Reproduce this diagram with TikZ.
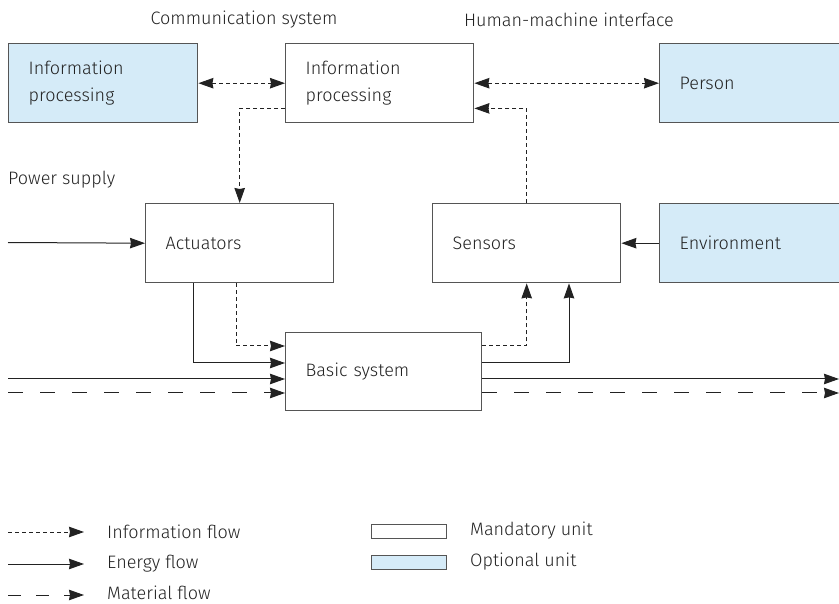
\documentclass[tikz,border=0pt]{standalone}
\usepackage{fontspec}
\setmainfont{Fira Sans}[UprightFont=* Light]
\usetikzlibrary{arrows.meta,calc}
\definecolor{optblue}{HTML}{D5EBF8}
\definecolor{linec}{HTML}{222222}
\definecolor{boxc}{HTML}{555555}
\begin{document}
\begin{tikzpicture}[x=1pt,y=-1pt,
  font=\fontsize{18}{27}\selectfont,
  >={Stealth[length=15pt,width=10.5pt,inset=1pt]},
  box/.style={draw=boxc, line width=1.4pt, fill=white, anchor=north west,
    align=left, inner xsep=20pt, inner ysep=0pt, minimum height=79pt,
    text width=#1, text=linec},
  lbl/.style={inner sep=0pt, text=linec},
  info/.style={draw=linec, line width=1pt, dash pattern=on 4pt off 3pt},
  energy/.style={draw=linec, line width=1pt},
  material/.style={draw=linec, line width=1pt, dash pattern=on 15pt off 17pt},
  legbox/.style={draw=boxc, line width=1.4pt, minimum width=75pt, minimum height=14pt,
    anchor=north west, inner sep=0pt}
]
\useasboundingbox (0,0) rectangle (839,604);
\clip (0,0) rectangle (839,604);

% boxes
\node[box=149pt, fill=optblue] (ip1) at (8,43) {Information\\processing};
\node[box=148pt] (ip2) at (285,43) {Information\\processing};
\node[box=160pt, fill=optblue] (per) at (659,43) {Person};
\node[box=148pt] (act) at (145,203) {Actuators};
\node[box=148pt] (sen) at (432,203) {Sensors};
\node[box=160pt, fill=optblue] (env) at (659,203) {Environment};
\node[box=156pt, minimum height=78pt] (bas) at (285,332) {Basic system};

% labels
\node[lbl] (cs) at (244,20) {Communication system};
\node[lbl] (hmi) at (569,20) {Human-machine interface};
\node[lbl, anchor=west] (ps) at (8,180) {Power supply};

% connectors
\draw[info,<->] (ip1) -- (ip2);
\draw[info,<->] (ip2) -- (per);
\draw[info,->] ($(ip2.south west)+(0,-15)$) -| (act.north);
\draw[info,->] (sen.north) |- ($(ip2.south east)+(0,-15)$);
\coordinate (psin) at (8,242.5);
\draw[energy,->] (psin) -- (act.west);
\draw[energy,->] (env) -- (sen);
\draw[energy,->] ($(act.south west)+(48,0)$) |- ($(bas.north west)+(0,31)$);
\draw[info,->] ($(act.south west)+(91,0)$) |- ($(bas.north west)+(0,14)$);
\coordinate (ein) at (8,379);
\coordinate (min) at (8,393);
\draw[energy,->] (ein) -- (ein -| bas.west);
\draw[material,->] (min) -- (min -| bas.west);
\draw[info,->] ($(bas.north east)+(0,14)$) -| (sen.south);
\draw[energy,->] ($(bas.north east)+(0,31)$) -| ($(sen.south west)+(137,0)$);
\coordinate (eout) at (839,379);
\coordinate (mout) at (839,393);
\draw[energy,->] (ein -| bas.east) -- (eout);
\draw[material,->] (min -| bas.east) -- (mout);

% legend
\coordinate (l1a) at (8,532);  \coordinate (l1b) at (84,532);
\coordinate (l2a) at (8,564);  \coordinate (l2b) at (84,564);
\coordinate (l3a) at (8,595);  \coordinate (l3b) at (84,595);
\draw[info,->] (l1a) -- (l1b);
\draw[energy,->] (l2a) -- (l2b);
\draw[material,dash pattern=on 13pt off 15pt,->] (l3a) -- (l3b);
\node[lbl, anchor=west] (t1) at (107,532) {Information flow};
\node[lbl, anchor=west] (t2) at (107,564) {Energy flow};
\node[lbl, anchor=west] (t3) at (107,593) {Material flow};
\node[legbox, fill=white] (lb1) at (371,524) {};
\node[legbox, fill=optblue] (lb2) at (371,555) {};
\node[lbl, anchor=west] (t4) at (470,531) {Mandatory unit};
\node[lbl, anchor=west] (t5) at (470,562) {Optional unit};
\end{tikzpicture}
\end{document}
